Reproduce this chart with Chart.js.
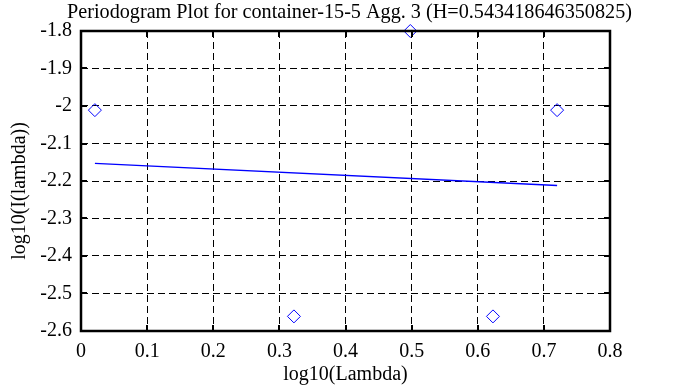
<!DOCTYPE html>
<html>
<head>
<meta charset="utf-8">
<script src="https://cdn.jsdelivr.net/npm/chart.js@4/dist/chart.umd.min.js"></script>
<style>
    html, body { margin: 0; padding: 0; background: #ffffff; }
    #wrap { width: 673px; height: 387px; }
</style>
</head>
<body>
<div id="wrap"><canvas id="periodogramChart" width="673" height="387"></canvas></div>
<script>
// Periodogram points (log10 of lambda vs log10 of I(lambda))
const logLambda = [0.021, 0.322, 0.498, 0.623, 0.720];
const logI = [-2.011, -2.561, -1.800, -2.561, -2.011];

// Least squares fit line
const fitX = [0.021, 0.720];
const fitY = [-2.153, -2.212];

const xTicks = [0, 0.1, 0.2, 0.3, 0.4, 0.5, 0.6, 0.7, 0.8];
const yTicks = [-2.6, -2.5, -2.4, -2.3, -2.2, -2.1, -2, -1.9, -1.8];

const serif = 'Liberation Serif';
const chartTitle = 'Periodogram Plot for container-15-5 Agg. 3 (H=0.543418646350825)';
const yTitle = 'log10(I(lambda))';

// Frame with small inward tick marks on all four sides, plus title and y label
const framePlugin = {
    id: 'frame',
    afterDatasetsDraw(chart) {
        const ctx = chart.ctx;
        const a = chart.chartArea;
        const xs = chart.scales.x;
        const ys = chart.scales.y;
        ctx.save();
        ctx.strokeStyle = '#000000';
        ctx.lineWidth = 2;
        ctx.beginPath();
        xTicks.forEach(function(v) {
            const px = Math.round(xs.getPixelForValue(v));
            ctx.moveTo(px, a.bottom);
            ctx.lineTo(px, a.bottom - 6);
            ctx.moveTo(px, a.top);
            ctx.lineTo(px, a.top + 6);
        });
        yTicks.forEach(function(v) {
            const py = Math.round(ys.getPixelForValue(v));
            ctx.moveTo(a.left, py);
            ctx.lineTo(a.left + 6, py);
            ctx.moveTo(a.right, py);
            ctx.lineTo(a.right - 6, py);
        });
        ctx.stroke();
        ctx.lineWidth = 2.5;
        ctx.strokeRect(a.left, a.top, a.right - a.left, a.bottom - a.top);

        ctx.fillStyle = '#000000';
        ctx.textAlign = 'center';
        ctx.textBaseline = 'middle';

        // title, centred a bit right of the plot middle and wider than the plot
        ctx.font = '20.2px "' + serif + '"';
        ctx.fillText(chartTitle, (a.left + a.right) / 2 + 4, 12.5);

        // y axis title, sits a little below the plot middle like the original
        ctx.font = '20px "' + serif + '"';
        ctx.translate(20, (a.top + a.bottom) / 2 + 10);
        ctx.rotate(-Math.PI / 2);
        ctx.fillText(yTitle, 0, 0);
        ctx.restore();
    }
};

const points = logLambda.map(function(x, i) { return { x: x, y: logI[i] }; });
const fitLine = fitX.map(function(x, i) { return { x: x, y: fitY[i] }; });

const ctx = document.getElementById('periodogramChart').getContext('2d');
new Chart(ctx, {
    type: 'scatter',
    data: {
        datasets: [{
            data: points,
            pointStyle: 'rectRot',
            pointRadius: 6.5,
            pointBorderWidth: 1,
            pointBorderColor: '#0000ff',
            pointBackgroundColor: 'rgba(0,0,0,0)',
            showLine: false,
            clip: false
        }, {
            data: fitLine,
            showLine: true,
            borderColor: '#0000ff',
            borderWidth: 1.5,
            pointRadius: 0,
            clip: false
        }]
    },
    options: {
        responsive: false,
        animation: false,
        layout: {
            padding: { left: 0, right: 63, top: 31, bottom: 0 }
        },
        plugins: {
            legend: { display: false },
            tooltip: { enabled: false },
            title: { display: false }
        },
        scales: {
            x: {
                type: 'linear',
                min: 0,
                max: 0.8,
                afterBuildTicks: function(scale) {
                    scale.ticks = xTicks.map(function(v) { return { value: v }; });
                },
                afterFit: function(scale) { scale.height = 56; },
                ticks: {
                    color: '#000000',
                    font: { family: serif, size: 20 },
                    padding: 9,
                    maxRotation: 0,
                    callback: function(v) { return String(Number(v.toFixed(1))); }
                },
                grid: {
                    color: '#000000',
                    lineWidth: 1,
                    drawTicks: false
                },
                border: { display: false, dash: [7, 4] },
                title: {
                    display: true,
                    text: 'log10(Lambda)',
                    color: '#000000',
                    font: { family: serif, size: 20 },
                    padding: { top: 0, bottom: 0 }
                }
            },
            y: {
                type: 'linear',
                min: -2.6,
                max: -1.8,
                afterBuildTicks: function(scale) {
                    scale.ticks = yTicks.map(function(v) { return { value: v }; });
                },
                afterFit: function(scale) { scale.width = 81; },
                ticks: {
                    color: '#000000',
                    font: { family: serif, size: 20 },
                    padding: 9,
                    callback: function(v) { return String(Number(v.toFixed(1))); }
                },
                grid: {
                    color: '#000000',
                    lineWidth: 1,
                    drawTicks: false
                },
                border: { display: false, dash: [7, 4] }
            }
        }
    },
    plugins: [framePlugin]
});
</script>
</body>
</html>
